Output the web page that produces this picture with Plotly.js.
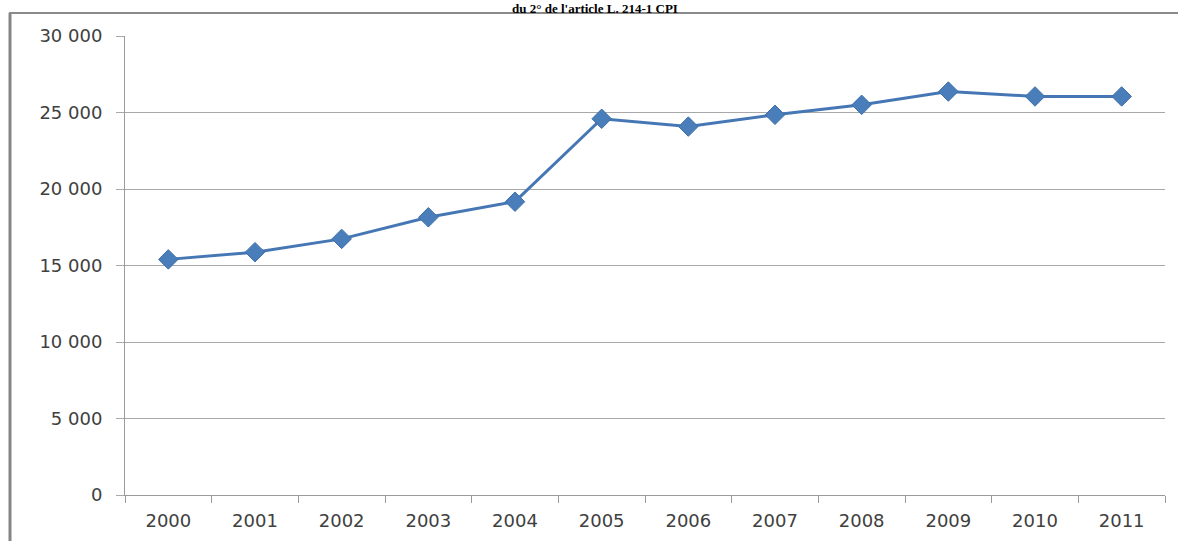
<!DOCTYPE html>
<html>
<head>
<meta charset="utf-8">
<script src="https://cdn.plot.ly/plotly-3.0.1.min.js"></script>
<style>
  html, body { margin: 0; padding: 0; background: #ffffff; }
  #chart { width: 1178px; height: 541px; }
</style>
</head>
<body>
<div id="chart"></div>
<script>
const years = ['2000','2001','2002','2003','2004','2005','2006','2007','2008','2009','2010','2011'];
const values = [15400, 15870, 16740, 18150, 19170, 24590, 24080, 24850, 25500, 26370, 26050, 26050];
const yTickVals = [0, 5000, 10000, 15000, 20000, 25000, 30000];
const yTickLabels = ['0', '5 000', '10 000', '15 000', '20 000', '25 000', '30 000'];
const titleText = "du 2° de l'article L. 214-1 CPI";

const W = 1178, H = 541;
const m = {l: 125, r: 13, t: 36, b: 46};
const pw = W - m.l - m.r, ph = H - m.t - m.b;
const px = v => (v - m.l) / pw;       // pixel x -> paper x
const py = v => (H - m.b - v) / ph;   // pixel y -> paper y

const trace = {
  type: 'scatter',
  mode: 'lines+markers',
  x: years,
  y: values,
  line: {color: '#4677b5', width: 3},
  marker: {symbol: 'diamond', size: 15, color: '#4a7ebb', line: {color: '#3f6fa8', width: 1}},
  hoverinfo: 'x+y'
};

const layout = {
  width: W, height: H,
  margin: m,
  paper_bgcolor: '#ffffff',
  plot_bgcolor: '#ffffff',
  showlegend: false,
  font: {family: 'DejaVu Sans, sans-serif', size: 18, color: '#404040'},
  xaxis: {
    type: 'category',
    range: [-0.5, years.length - 0.5],
    autorange: false,
    showgrid: false,
    showline: true, linecolor: '#9a9a9a', linewidth: 1,
    ticks: 'outside', tickson: 'boundaries', ticklen: 7, tickcolor: '#9a9a9a', tickwidth: 1,
    ticklabelstandoff: 9,
    tickfont: {family: 'DejaVu Sans, sans-serif', size: 18, color: '#404040'},
    zeroline: false, fixedrange: true
  },
  yaxis: {
    range: [0, 30000],
    autorange: false,
    tickvals: yTickVals,
    ticktext: yTickLabels,
    showgrid: true, gridcolor: '#a8a8a8', gridwidth: 1,
    showline: true, linecolor: '#9a9a9a', linewidth: 1,
    ticks: 'outside', ticklen: 8, tickcolor: '#a8a8a8', tickwidth: 1,
    ticklabelstandoff: 10,
    tickfont: {family: 'DejaVu Sans, sans-serif', size: 18, color: '#404040'},
    zeroline: false, fixedrange: true
  },
  shapes: [
    {type: 'line', xref: 'paper', yref: 'paper',
     x0: px(10), x1: px(10), y0: py(H + 5), y1: py(13),
     line: {color: '#858585', width: 3}},
    {type: 'line', xref: 'paper', yref: 'paper',
     x0: px(9), x1: px(W + 5), y0: py(13), y1: py(13),
     line: {color: '#8a8a8a', width: 2}}
  ],
  annotations: [
    {text: '<b>' + titleText + '</b>', xref: 'paper', yref: 'paper',
     x: px(595), y: py(0), xanchor: 'center', yanchor: 'top',
     borderpad: 0, showarrow: false,
     font: {family: 'Liberation Serif, serif', size: 13, color: '#000000'}}
  ]
};

Plotly.newPlot('chart', [trace], layout, {displayModeBar: false, staticPlot: true});
</script>
</body>
</html>
